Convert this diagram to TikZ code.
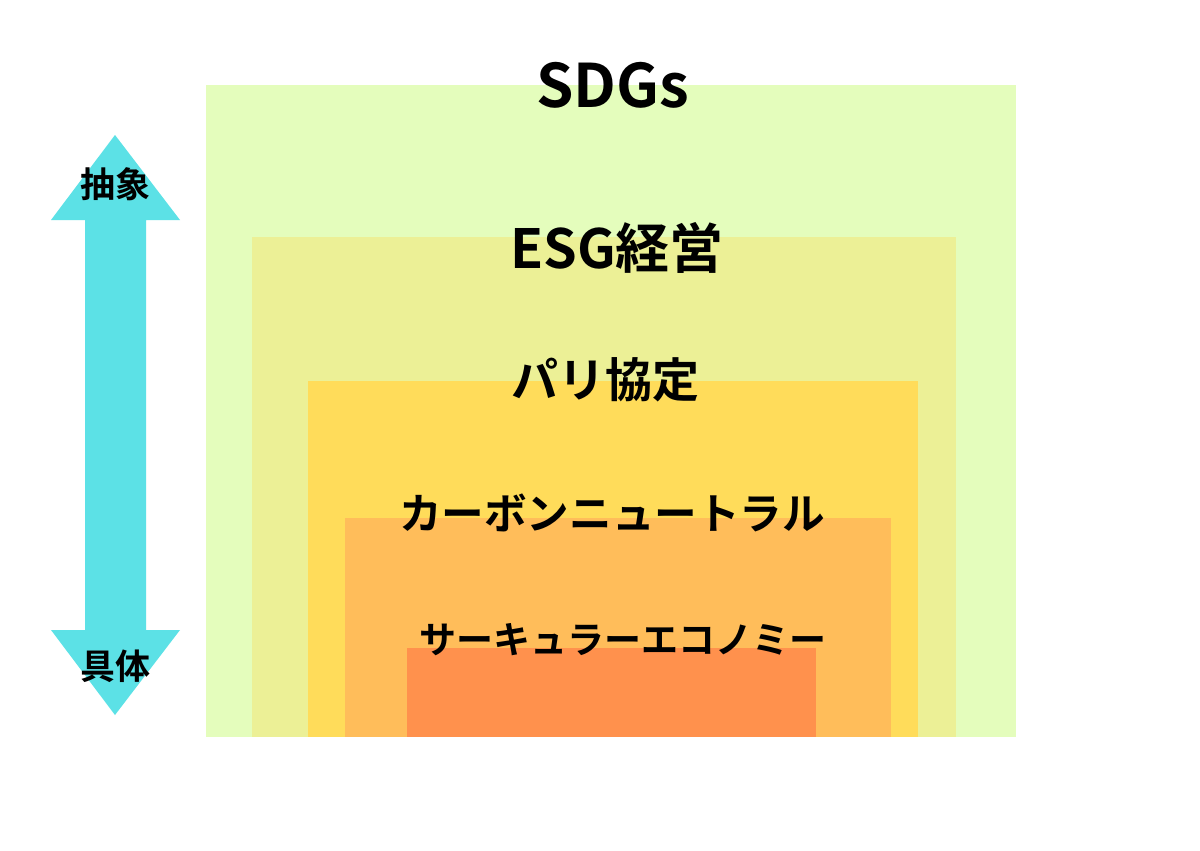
\documentclass[tikz,border=0pt]{standalone}
\usepackage{fontspec}
\setmainfont{Noto Sans CJK JP}[BoldFont={Noto Sans CJK JP Bold}]
\definecolor{cSDG}{HTML}{E4FDBC}
\definecolor{cESG}{HTML}{ECF096}
\definecolor{cPar}{HTML}{FFDC5A}
\definecolor{cCar}{HTML}{FFBD5A}
\definecolor{cCir}{HTML}{FF914D}
\definecolor{cArr}{HTML}{5CE1E6}
\tikzset{lbl/.style={inner sep=0pt,font=\bfseries}}
\begin{document}
\begin{tikzpicture}[x=1pt,y=-1pt]
\useasboundingbox (0,0) rectangle (1200,851);
\fill[white] (0,0) rectangle (1200,851);
\fill[cSDG] (206,85) rectangle (1016,737);
\fill[cESG] (252,237) rectangle (956,737);
\fill[cPar] (308,381) rectangle (918,737);
\fill[cCar] (345,518) rectangle (891,737);
\fill[cCir] (407,648) rectangle (816,737);
\fill[cArr] (115,135) -- (180,220) -- (146,220) -- (146,630) -- (180,630) -- (115,715) -- (51,630) -- (85,630) -- (85,220) -- (51,220) -- cycle;
\node[lbl,font=\bfseries\fontsize{60}{62}\selectfont] (sdg) at (613,85) {SDGs};
\node[lbl,font=\bfseries\fontsize{54}{56}\selectfont] (esg) at (617,248) {ESG経営};
\node[lbl,font=\bfseries\fontsize{47}{50}\selectfont] (par) at (605,380) {パリ協定};
\node[lbl,font=\bfseries\fontsize{42.6}{45}\selectfont] (car) at (612,513) {カーボンニュートラル};
\node[lbl,font=\bfseries\fontsize{37}{40}\selectfont] (cir) at (623,640) {サーキュラーエコノミー};
\node[lbl,font=\bfseries\fontsize{35}{38}\selectfont] (abs) at (115,184) {抽象};
\node[lbl,font=\bfseries\fontsize{35}{38}\selectfont] (con) at (115,666) {具体};
\end{tikzpicture}
\end{document}
